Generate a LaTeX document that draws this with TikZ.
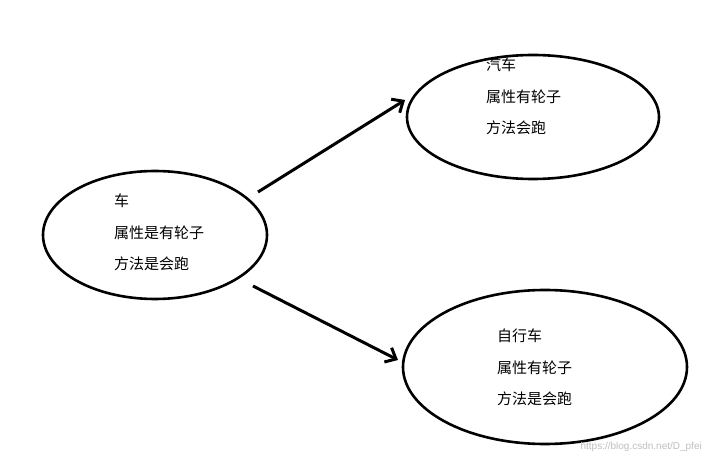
\documentclass[tikz,border=0pt]{standalone}
\usepackage{fontspec}
\newfontfamily\cjk{Noto Sans CJK SC}
\usetikzlibrary{arrows.meta}
\begin{document}
\begin{tikzpicture}[x=1pt,y=-1pt,
  txt/.style={font=\cjk\fontsize{15}{31.5}\selectfont,align=left,anchor=north west,inner sep=0pt},
  arr/.style={line width=3pt,-{Straight Barb[length=9pt,width=16pt,line width=3pt]}}]
\useasboundingbox (0,0) rectangle (710,462);
\fill[white] (0,0) rectangle (710,462);
\draw[line width=2.6pt] (155,235) ellipse [x radius=112,y radius=64];
\draw[line width=2.6pt] (533,117) ellipse [x radius=126,y radius=62];
\draw[line width=2.6pt] (545,367) ellipse [x radius=142,y radius=77];
\node[txt] (a) at (114,194) {车\\属性是有轮子\\方法是会跑};
\node[txt] (b) at (486,58) {汽车\\属性有轮子\\方法会跑};
\node[txt] (c) at (497,329) {自行车\\属性有轮子\\方法是会跑};
\coordinate (a1) at (258,192); \coordinate (b1) at (405,100);
\coordinate (a2) at (253,286); \coordinate (c1) at (398,360);
\draw[arr] (a1) -- (b1);
\draw[arr] (a2) -- (c1);
\node[font=\fontspec{Liberation Sans}\fontsize{10}{11}\selectfont,text=black!25,anchor=south east,inner sep=0pt] (w) at (702,452) {https://blog.csdn.net/D\_pfei};
\end{tikzpicture}
\end{document}
